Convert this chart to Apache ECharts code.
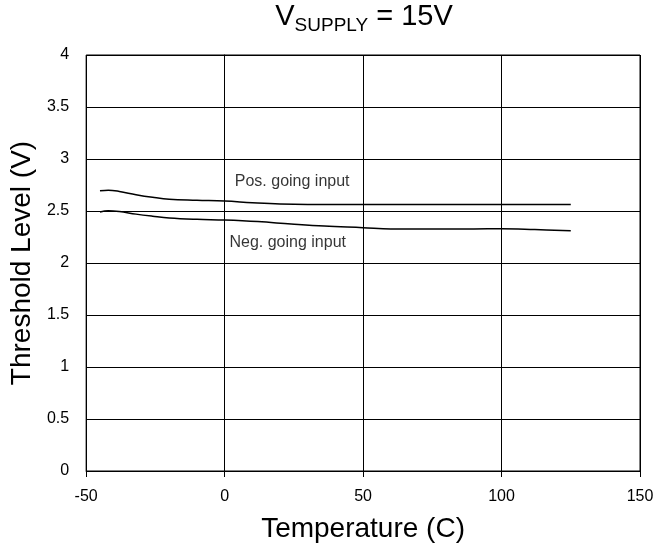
<!DOCTYPE html>
<html>
<head>
<meta charset="utf-8">
<style>
  html, body { margin: 0; padding: 0; background: #fff; }
  #chart { width: 668px; height: 552px; }
</style>
<script src="https://cdn.jsdelivr.net/npm/echarts@6/dist/echarts.min.js"></script>
</head>
<body>
<div id="chart"></div>
<script>
// Threshold level vs temperature, V_SUPPLY = 15V
const posTemp = [-45, -42, -38, -32, -26, -20, -10, 0, 10, 20, 30, 50, 75, 100, 125];
const posLevel = [2.695, 2.70, 2.688, 2.657, 2.632, 2.613, 2.603, 2.595, 2.58, 2.568, 2.563, 2.562, 2.563, 2.563, 2.563];

const negTemp = [-45, -42, -38, -32, -26, -20, -10, 0, 12, 24, 36, 50, 60, 75, 90, 100, 112, 125];
const negLevel = [2.49, 2.503, 2.495, 2.47, 2.45, 2.433, 2.42, 2.413, 2.398, 2.375, 2.355, 2.34, 2.328, 2.326, 2.328, 2.33, 2.322, 2.31];

// curve annotations: text, temperature, level
const noteText = ['Pos. going input', 'Neg. going input'];
const noteTemp = [24.4, 22.8];
const noteLevel = [2.779, 2.192];

const xTicks = { min: -50, max: 150, interval: 50 };
const yTicks = { min: 0, max: 4, interval: 0.5 };

const FONT = '"Liberation Sans", Arial, Helvetica, sans-serif';

const zip = (a, b) => a.map((v, i) => [v, b[i]]);

const chart = echarts.init(document.getElementById('chart'), null, { renderer: 'canvas' });

chart.setOption({
  animation: false,
  backgroundColor: '#fff',
  title: {
    text: '{v|V}{s|SUPPLY}{v| = 15V}',
    left: 364,
    textAlign: 'center',
    top: -1.5,
    padding: 0,
    textStyle: {
      fontWeight: 'normal',
      rich: {
        v: { fontFamily: FONT, fontSize: 29, fontWeight: 'normal', color: '#000', lineHeight: 37, verticalAlign: 'middle' },
        s: { fontFamily: FONT, fontSize: 19, fontWeight: 'normal', color: '#000', lineHeight: 19, verticalAlign: 'bottom' }
      }
    }
  },
  grid: { left: 86, right: 28, top: 55, bottom: 81, containLabel: false,
          show: true, borderColor: '#000', borderWidth: 1 },
  xAxis: {
    type: 'value',
    min: xTicks.min, max: xTicks.max, interval: xTicks.interval,
    name: 'Temperature (C)',
    nameLocation: 'middle',
    nameGap: 44,
    nameTextStyle: { fontFamily: FONT, fontSize: 28, color: '#000' },
    axisLine: { show: true, lineStyle: { color: '#000', width: 1 } },
    axisTick: { show: true, inside: false, length: 6, lineStyle: { color: '#000' } },
    axisLabel: { fontFamily: FONT, fontSize: 16, color: '#000', margin: 18 },
    splitLine: { show: true, lineStyle: { color: '#000', width: 1 } }
  },
  yAxis: {
    type: 'value',
    min: yTicks.min, max: yTicks.max, interval: yTicks.interval,
    name: 'Threshold Level (V)',
    nameLocation: 'middle',
    nameGap: 37,
    nameTextStyle: { fontFamily: FONT, fontSize: 28, color: '#000' },
    axisLine: { show: true, lineStyle: { color: '#000', width: 1 } },
    axisTick: { show: true, inside: false, length: 7, lineStyle: { color: '#000' } },
    axisLabel: { fontFamily: FONT, fontSize: 16, color: '#000', margin: 17 },
    splitLine: { show: true, lineStyle: { color: '#000', width: 1 } }
  },
  series: [
    {
      name: 'Pos. going input',
      type: 'line',
      data: zip(posTemp, posLevel),
      smooth: 0.4,
      showSymbol: false,
      lineStyle: { color: '#000', width: 1.5 }
    },
    {
      name: 'Neg. going input',
      type: 'line',
      data: zip(negTemp, negLevel),
      smooth: 0.4,
      showSymbol: false,
      lineStyle: { color: '#000', width: 1.5 }
    },
    {
      name: 'notes',
      type: 'scatter',
      data: noteText.map((t, i) => ({ value: [noteTemp[i], noteLevel[i]], name: t })),
      symbol: 'circle',
      symbolSize: 1,
      itemStyle: { color: 'rgba(0,0,0,0)' },
      silent: true,
      z: 5,
      label: {
        show: true,
        position: 'inside',
        formatter: p => p.name,
        fontFamily: FONT,
        fontSize: 16,
        color: '#000'
      }
    }
  ]
});
</script>
</body>
</html>
